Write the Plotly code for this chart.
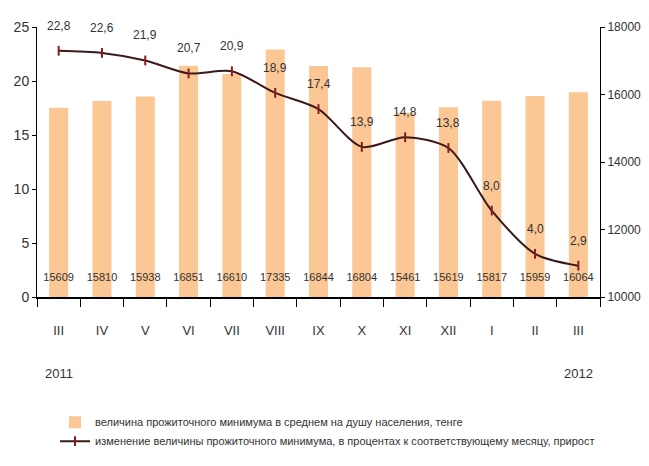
import plotly.graph_objects as go

months = ["III", "IV", "V", "VI", "VII", "VIII", "IX", "X", "XI", "XII", "I", "II", "III"]
subsistence_min = [15609, 15810, 15938, 16851, 16610, 17335, 16844, 16804, 15461, 15619, 15817, 15959, 16064]
change_pct = [22.8, 22.6, 21.9, 20.7, 20.9, 18.9, 17.4, 13.9, 14.8, 13.8, 8.0, 4.0, 2.9]
years = [(0, "2011"), (12, "2012")]

bar_name = "величина прожиточного минимума в среднем на душу населения, тенге"
line_name = "изменение величины прожиточного минимума, в процентах к соответствующему месяцу, прирост"

FONT = "Liberation Sans, Arial, sans-serif"
TXT = "#333333"

x = list(range(len(months)))

fig = go.Figure()
fig.add_trace(go.Bar(
    x=x, y=subsistence_min, name=bar_name, yaxis="y",
    marker=dict(color="#FBC794", line=dict(width=0)), width=0.44,
))
fig.add_trace(go.Scatter(
    x=x, y=[10560] * len(x), mode="text", yaxis="y",
    text=[str(v) for v in subsistence_min], textposition="middle center",
    textfont=dict(family=FONT, size=11, color=TXT), showlegend=False, hoverinfo="skip",
))
fig.add_trace(go.Scatter(
    x=x, y=change_pct, name=line_name, yaxis="y2", mode="lines+markers",
    line=dict(color="#3a1a1a", width=2, shape="spline", smoothing=0.8),
    marker=dict(symbol="line-ns", size=7, line=dict(color="#8b1a1a", width=2), color="#8b1a1a"),
))

for xi, v in zip(x, change_pct):
    fig.add_annotation(x=xi, y=v, yref="y2", text=f"{v:.1f}".replace(".", ","),
                       showarrow=False, yshift=25,
                       font=dict(family=FONT, size=12, color=TXT))

for xi, t in years:
    fig.add_annotation(x=xi, y=-0.32, yref="paper", text=t, showarrow=False,
                       font=dict(family=FONT, size=13, color=TXT))

fig.update_layout(
    width=649, height=466,
    margin=dict(l=37, r=49, t=27, b=169, autoexpand=False),
    plot_bgcolor="white", paper_bgcolor="white",
    font=dict(family=FONT, size=13, color=TXT),
    xaxis=dict(
        range=[-0.5, 12.5], tickvals=x, ticktext=months, tickangle=0,
        showline=True, linecolor="black", linewidth=2,
        ticks="outside", ticklen=20, tickcolor="rgba(0,0,0,0)",
        minor=dict(tick0=-0.5, dtick=1, ticks="outside", ticklen=8, tickcolor="black", tickwidth=1),
        showgrid=False, zeroline=False,
        tickfont=dict(family=FONT, size=13, color=TXT),
    ),
    yaxis=dict(
        side="right", range=[10000, 18000], dtick=2000, tickformat="d",
        showline=True, linecolor="black", linewidth=1,
        ticks="outside", ticklen=4, tickcolor="black",
        showgrid=False, zeroline=False,
        tickfont=dict(family=FONT, size=12, color=TXT),
    ),
    yaxis2=dict(
        overlaying="y", side="left", range=[0, 25], dtick=5,
        showline=True, linecolor="black", linewidth=1,
        ticks="outside", ticklen=4, tickcolor="black",
        showgrid=False, zeroline=False,
        tickfont=dict(family=FONT, size=14, color=TXT),
    ),
    legend=dict(
        x=0.032, y=-0.41, xanchor="left", yanchor="top", orientation="v",
        font=dict(family=FONT, size=11, color=TXT), tracegroupgap=0,
        bgcolor="rgba(0,0,0,0)", itemwidth=30,
    ),
)

fig.write_html("out.html", config={"displayModeBar": False},
               post_script="document.body.style.margin='0';")
